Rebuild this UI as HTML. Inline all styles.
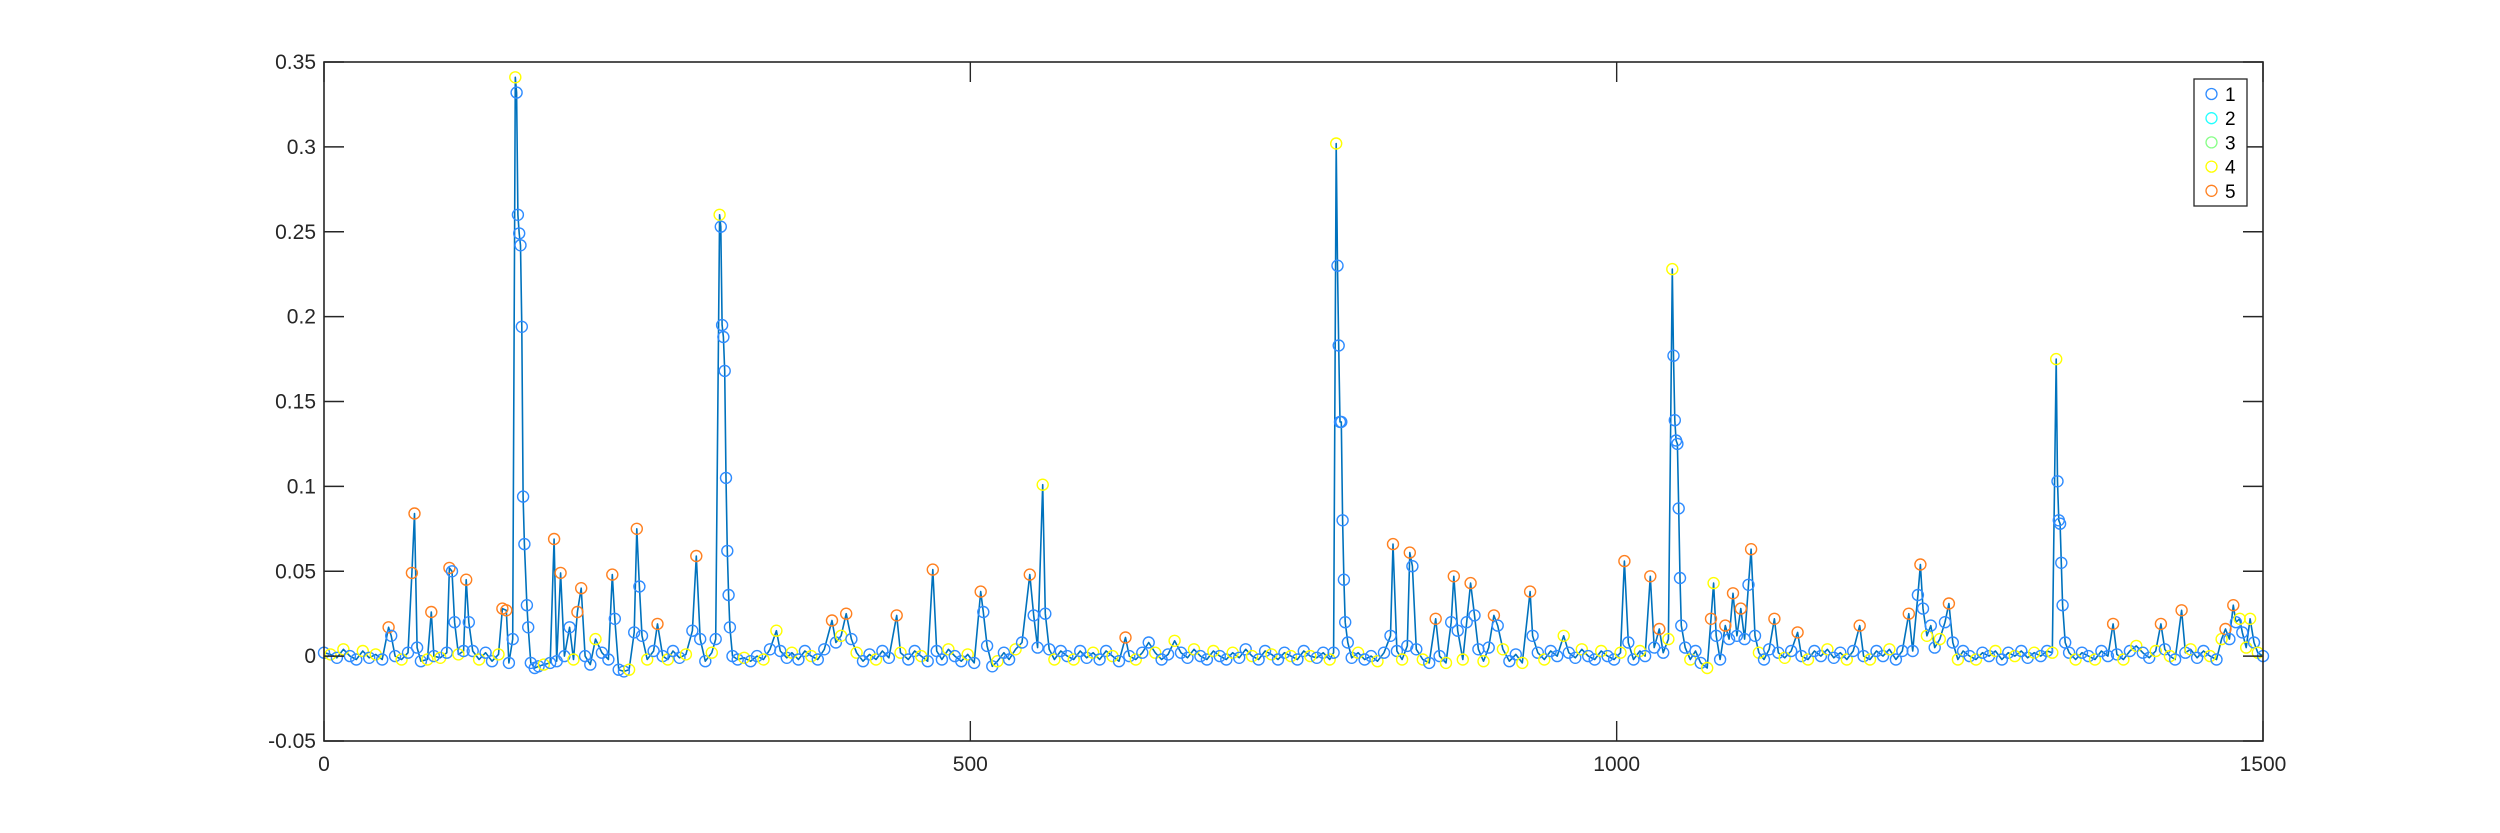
<!DOCTYPE html>
<html><head><meta charset="utf-8"><style>
html,body{margin:0;padding:0;background:#fff;}
svg{display:block;font-family:"Liberation Sans",Arial,sans-serif;}
</style></head><body>
<svg id="chart" width="2500" height="833" viewBox="0 0 2500 833" xmlns="http://www.w3.org/2000/svg">
<rect x="0" y="0" width="2500" height="833" fill="#fff"/>
<g id="plot"></g>
<g id="axes"></g>
<g id="legend"></g>
</svg>
<script>
const xTicks = [0, 500, 1000, 1500];
const yTicks = [-0.05, 0, 0.05, 0.1, 0.15, 0.2, 0.25, 0.3, 0.35];
const yTickLabels = ["-0.05", "0", "0.05", "0.1", "0.15", "0.2", "0.25", "0.3", "0.35"];
const legendLabels = ["1", "2", "3", "4", "5"];
const classColors = ["#2f8cff", "#22ffff", "#88ff88", "#ffff00", "#ff8020"];
// samples: [x, y, class]
const samples = [
[0,0.002,1],[5,0.001,4],[10,-0.001,1],[15,0.004,4],[20,0.0,1],[25,-0.002,1],[30,0.003,4],[35,-0.001,1],[40,0.001,4],[45,-0.002,1],[50,0.017,5],[52,0.012,1],[55,0.0,1],[60,-0.002,4],[65,0.002,1],[68,0.049,5],[70,0.084,5],[72,0.005,1],[75,-0.003,1],[80,-0.002,4],[83,0.026,5],[85,0.0,1],[90,-0.001,4],[95,0.002,1],[97,0.052,5],[99,0.05,1],[101,0.02,1],[104,0.001,4],[108,0.003,1],[110,0.045,5],[112,0.02,1],[115,0.003,1],[120,-0.002,4],[125,0.002,1],[130,-0.003,1],[135,0.001,4],[138,0.028,5],[141,0.027,5],[143,-0.004,1],[146,0.01,1],
[148,0.341,4],[149,0.332,1],[150,0.26,1],[151,0.249,1],[152,0.242,1],[153,0.194,1],[154,0.094,1],[155,0.066,1],[157,0.03,1],[158,0.017,1],[160,-0.004,1],[163,-0.007,1],[166,-0.006,1],[170,-0.005,4],[175,-0.004,1],[178,0.069,5],[180,-0.003,1],[183,0.049,5],[186,0.0,1],[190,0.017,1],[193,-0.002,4],[196,0.026,5],[199,0.04,5],[202,0.0,1],[206,-0.005,1],[210,0.01,4],[215,0.002,1],[220,-0.002,1],[223,0.048,5],[225,0.022,1],[228,-0.008,1],[232,-0.009,1],[236,-0.008,4],[240,0.014,1],[242,0.075,5],[244,0.041,1],[246,0.012,1],[250,-0.002,4],[255,0.003,1],[258,0.019,5],[262,0.0,1],[266,-0.002,4],[270,0.003,1],[275,-0.001,1],[280,0.001,4],[285,0.015,1],[288,0.059,5],[291,0.01,1],[295,-0.003,1],[300,0.002,4],[303,0.01,1],
[306,0.26,4],[307,0.253,1],[308,0.195,1],[309,0.188,1],[310,0.168,1],[311,0.105,1],[312,0.062,1],[313,0.036,1],[314,0.017,1],[316,0.0,1],[320,-0.002,1],[325,-0.001,4],[330,-0.003,1],[335,0.0,1],[340,-0.002,4],[345,0.004,1],[350,0.015,4],[353,0.003,1],[358,-0.001,1],[362,0.002,4],[367,-0.002,1],[372,0.003,1],[377,0.0,4],[382,-0.002,1],[387,0.004,1],[393,0.021,5],[396,0.008,1],[400,0.012,4],[404,0.025,5],[408,0.01,1],[412,0.002,4],[417,-0.003,1],[422,0.001,1],[427,-0.002,4],[432,0.003,1],[437,-0.001,1],[443,0.024,5],[446,0.002,4],[452,-0.002,1],[457,0.003,1],[462,0.0,4],[467,-0.003,1],[471,0.051,5],[474,0.003,1],[478,-0.002,1],[483,0.004,4],[488,0.0,1],[493,-0.003,1],[498,0.001,4],[503,-0.004,1],[508,0.038,5],[510,0.026,1],[513,0.006,1],[517,-0.006,1],[521,-0.003,4],[526,0.002,1],[530,-0.002,1],[535,0.004,4],[540,0.008,1],[546,0.048,5],[549,0.024,1],[552,0.005,1],[556,0.101,4],[558,0.025,1],[561,0.004,1],[565,-0.002,4],[570,0.003,1],[575,0.0,1],[580,-0.002,4],[585,0.003,1],[590,-0.001,1],[595,0.002,4],[600,-0.002,1],[605,0.003,1],[610,0.0,4],[615,-0.003,1],[620,0.011,5],[623,0.0,1],[628,-0.002,4],[633,0.002,1],[638,0.008,1],[643,0.002,4],[648,-0.002,1],[653,0.001,1],[658,0.009,4],[663,0.002,1],[668,-0.001,1],[673,0.004,4],[678,0.0,1],[683,-0.002,1],[688,0.003,4],[693,0.0,1],[698,-0.002,1],[703,0.002,4],[708,-0.001,1],[713,0.004,1],[718,0.0,4],[723,-0.002,1],[728,0.003,1],[733,0.001,4],[738,-0.002,1],[743,0.002,1],[748,0.0,4],[753,-0.002,1],[758,0.003,1],[763,0.0,4],[768,-0.001,1],[773,0.002,1],[778,-0.002,4],[781,0.002,1],
[783,0.302,4],[784,0.23,1],[785,0.183,1],[786,0.138,1],[787,0.138,1],[788,0.08,1],[789,0.045,1],[790,0.02,1],[792,0.008,1],[795,-0.001,1],[800,0.002,4],[805,-0.002,1],[810,0.0,1],[815,-0.003,4],[820,0.002,1],[825,0.012,1],[827,0.066,5],[830,0.003,1],[834,-0.002,4],[838,0.006,1],[840,0.061,5],[842,0.053,1],[845,0.004,1],[850,-0.002,4],[855,-0.004,1],[860,0.022,5],[863,0.0,1],[868,-0.004,4],[872,0.02,1],[874,0.047,5],[877,0.015,1],[881,-0.002,4],[884,0.02,1],[887,0.043,5],[890,0.024,1],[893,0.004,1],[897,-0.003,4],[901,0.005,1],[905,0.024,5],[908,0.018,1],[912,0.004,4],[917,-0.003,1],[922,0.001,1],[927,-0.004,4],[933,0.038,5],[935,0.012,1],[939,0.002,1],[944,-0.002,4],[949,0.003,1],[954,0.0,1],[959,0.012,4],[963,0.002,1],[968,-0.001,1],[973,0.004,4],[978,0.0,1],[983,-0.002,1],[988,0.003,4],[993,0.0,1],[998,-0.002,1],[1003,0.002,4],[1006,0.056,5],[1009,0.008,1],[1013,-0.002,1],[1018,0.003,4],[1022,0.0,1],[1026,0.047,5],[1029,0.005,1],[1033,0.016,5],[1036,0.002,1],[1040,0.01,4],
[1043,0.228,4],[1044,0.177,1],[1045,0.139,1],[1046,0.127,1],[1047,0.125,1],[1048,0.087,1],[1049,0.046,1],[1050,0.018,1],[1053,0.005,1],[1057,-0.002,4],[1061,0.003,1],[1065,-0.004,1],[1070,-0.007,4],[1073,0.022,5],[1075,0.043,4],[1077,0.012,1],[1080,-0.002,1],[1084,0.018,5],[1087,0.01,1],[1090,0.037,5],[1093,0.012,1],[1096,0.028,5],[1099,0.01,1],[1102,0.042,1],[1104,0.063,5],[1107,0.012,1],[1110,0.002,4],[1114,-0.002,1],[1118,0.004,1],[1122,0.022,5],[1125,0.002,1],[1130,-0.001,4],[1135,0.003,1],[1140,0.014,5],[1143,0.0,1],[1148,-0.002,4],[1153,0.003,1],[1158,0.0,1],[1163,0.004,4],[1168,-0.001,1],[1173,0.002,1],[1178,-0.002,4],[1183,0.003,1],[1188,0.018,5],[1191,0.0,1],[1196,-0.002,4],[1201,0.003,1],[1206,0.0,1],[1211,0.004,4],[1216,-0.002,1],[1221,0.003,1],[1226,0.025,5],[1229,0.003,1],[1233,0.036,1],[1235,0.054,5],[1237,0.028,1],[1240,0.012,4],[1243,0.018,1],[1246,0.005,1],[1250,0.01,4],[1254,0.02,1],[1257,0.031,5],[1260,0.008,1],[1264,-0.002,4],[1268,0.003,1],[1273,0.0,1],[1278,-0.002,4],[1283,0.002,1],[1288,0.0,1],[1293,0.003,4],[1298,-0.002,1],[1303,0.002,1],[1308,0.0,4],[1313,0.003,1],[1318,-0.001,1],[1323,0.002,4],[1328,0.0,1],[1333,0.003,1],[1337,0.002,4],
[1340,0.175,4],[1341,0.103,1],[1342,0.08,1],[1343,0.078,1],[1344,0.055,1],[1345,0.03,1],[1347,0.008,1],[1350,0.002,1],[1355,-0.002,4],[1360,0.002,1],[1365,0.0,1],[1370,-0.002,4],[1375,0.003,1],[1380,0.0,1],[1384,0.019,5],[1387,0.001,1],[1392,-0.002,4],[1397,0.003,1],[1402,0.006,4],[1407,0.002,1],[1412,-0.001,1],[1417,0.003,4],[1421,0.019,5],[1424,0.004,1],[1428,0.0,4],[1432,-0.002,1],[1437,0.027,5],[1440,0.002,1],[1444,0.004,4],[1449,-0.001,1],[1454,0.003,1],[1459,0.0,4],[1464,-0.002,1],[1468,0.01,4],[1471,0.016,5],[1474,0.01,1],[1477,0.03,5],[1479,0.02,1],[1482,0.022,4],[1484,0.014,1],[1487,0.005,4],[1490,0.022,4],[1493,0.008,1],[1496,0.002,4],[1500,0.0,1]
];

const NS = "http://www.w3.org/2000/svg";
const L = 324, R = 2263, T = 62, B = 741;
const xMin = 0, xMax = 1500, yMin = -0.05, yMax = 0.35;
function sx(v){ return L + (v - xMin) / (xMax - xMin) * (R - L); }
function sy(v){ return B - (v - yMin) / (yMax - yMin) * (B - T); }
function mk(tag, attrs, parent){
  const e = document.createElementNS(NS, tag);
  for (const k in attrs) e.setAttribute(k, attrs[k]);
  parent.appendChild(e);
  return e;
}
const plot = document.getElementById('plot');
const axes = document.getElementById('axes');
const legend = document.getElementById('legend');

// line
const d = samples.map((s, i) => (i ? 'L' : 'M') + sx(s[0]).toFixed(1) + ' ' + sy(s[1]).toFixed(1)).join(' ');
const line = mk('path', {d: d, fill: 'none', stroke: '#0072BD', 'stroke-width': 1.6, 'stroke-linejoin': 'round'}, plot);



// markers
samples.forEach(s => {
  const c = mk('circle', {cx: sx(s[0]).toFixed(1), cy: sy(s[1]).toFixed(1), r: 5.5, fill: 'none', stroke: classColors[s[2] - 1], 'stroke-width': 1.4}, plot);
  
  
});

// axes box
const box = mk('rect', {x: L, y: T, width: R - L, height: B - T, fill: 'none', stroke: '#262626', 'stroke-width': 1.6}, axes);



yTicks.forEach((v, i) => {
  const y = sy(v);
  const t = mk('line', {x1: L, x2: L + 20, y1: y, y2: y, stroke: '#262626', 'stroke-width': 1.4}, axes);
  
  
  const t2 = mk('line', {x1: R, x2: R - 20, y1: y, y2: y, stroke: '#262626', 'stroke-width': 1.4}, axes);
  
  
  const lb = mk('text', {x: L - 8, y: y + 7, 'text-anchor': 'end', 'font-size': 21, fill: '#262626'}, axes);
  lb.textContent = yTickLabels[i];
  
  
});
xTicks.forEach(v => {
  const x = sx(v);
  const t = mk('line', {x1: x, x2: x, y1: B, y2: B - 20, stroke: '#262626', 'stroke-width': 1.4}, axes);
  
  
  const t2 = mk('line', {x1: x, x2: x, y1: T, y2: T + 20, stroke: '#262626', 'stroke-width': 1.4}, axes);
  
  
  const lb = mk('text', {x: x, y: B + 30, 'text-anchor': 'middle', 'font-size': 21, fill: '#262626'}, axes);
  lb.textContent = String(v);
  
  
});

// legend
const lb0 = mk('rect', {x: 2194, y: 79, width: 53, height: 127, fill: '#fff', stroke: '#262626', 'stroke-width': 1.3}, legend);


legendLabels.forEach((lab, i) => {
  const y = 94 + i * 24.2;
  const g = mk('g', {}, legend);
  
  
  const c = mk('circle', {cx: 2211.5, cy: y, r: 5.5, fill: 'none', stroke: classColors[i], 'stroke-width': 1.3}, g);
  
  
  const t = mk('text', {x: 2225, y: y + 7, 'font-size': 19, fill: '#000'}, g);
  t.textContent = lab;
  
  
});
</script>
</body></html>
